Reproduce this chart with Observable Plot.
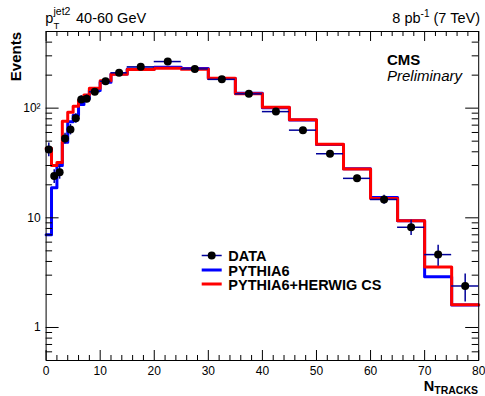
<!DOCTYPE html>
<html><head><meta charset="utf-8">
<script src="https://cdn.jsdelivr.net/npm/d3@7"></script>
<script src="https://cdn.jsdelivr.net/npm/@observablehq/plot@0.6"></script>
<style>body{margin:0;background:#fff} svg{display:block}</style>
</head><body><div id="chart"></div>
<script>
// ---- data ----
const binEdges = [0,1,2,3,4,5,6,7,8,10,12,15,20,25,30,35,40,45,50,55,60,65,70,75,80];
const dataValues = [42,24,26,53,64,81,120,122,141,176,210,238,266,228,183,135,93,63,38.4,22.9,14.7,8.2,4.62,2.39];
const dataErrors = [6,3.4,3.5,6,7,8,10,10,6,5,5,4,5,4,4,3,2.5,2,2,1.5,1.4,1.3,1.0,0.68];
const pythia6 = [7,18.8,30,49,75,86,108,122,145,172,205,228,236,230,186,137,101,78,46.5,28,15.3,9.4,2.9,1.6];
const pythiaHerwig = [43,30,32,76,92,104,118,132,152,178,204,225,231,226,187,135,102,78.5,46.8,27.8,15.0,9.4,3.56,1.61];
const xMajorTicks = [0,10,20,30,40,50,60,70,80];
const xMinorTicks = [2,4,6,8,12,14,16,18,22,24,26,28,32,34,36,38,42,44,46,48,52,54,56,58,62,64,66,68,72,74,76,78];
const yMajorTicks = [1,10,100];
const yTickLabels = ["1","10","10\u00B2"];
const yMinorTicks = [0.6,0.7,0.8,0.9,2,3,4,5,6,7,8,9,20,30,40,50,60,70,80,90,200,300,400];
const seriesNames = ["DATA","PYTHIA6","PYTHIA6+HERWIG CS"];

// ---- layout ----
const FONT = "'Liberation Sans', Arial, Helvetica, sans-serif";
const NAVY = "#000099", BLUE = "#0000ff", RED = "#ff0000";
const W = 485, H = 396, mL = 45.6, mR = 6.8, mT = 31, mB = 36;
const iw = W - mL - mR, ih = H - mT - mB;

const bins = binEdges.slice(0, -1).map((lo, i) => ({
  lo, hi: binEdges[i + 1], mid: (lo + binEdges[i + 1]) / 2, v: dataValues[i], e: dataErrors[i]
}));
const step = vals => [
  ...binEdges.slice(0, -1).map((x, i) => ({x, y: vals[i]})),
  {x: binEdges[binEdges.length - 1], y: vals[vals.length - 1]}
];
const yLabel = new Map(yMajorTicks.map((t, i) => [t, yTickLabels[i]]));

const svgNode = Plot.plot({
  width: W, height: H,
  marginLeft: mL, marginRight: mR, marginTop: mT, marginBottom: mB,
  style: {fontFamily: FONT, fontSize: "12px", background: "white", color: "black"},
  x: {domain: [0, 80]},
  y: {type: "log", domain: [0.5, 500]},
  marks: [
    Plot.line(step(pythia6), {x: "x", y: "y", curve: "step-after", stroke: BLUE, strokeWidth: 3}),
    Plot.line(step(pythiaHerwig), {x: "x", y: "y", curve: "step-after", stroke: RED, strokeWidth: 3}),
    Plot.ruleY(bins, {y: "v", x1: "lo", x2: "hi", stroke: NAVY, strokeWidth: 1.5}),
    Plot.ruleX(bins, {x: "mid", y1: d => d.v - d.e, y2: d => d.v + d.e, stroke: NAVY, strokeWidth: 1.5}),
    Plot.dot(bins, {x: "mid", y: "v", r: 4, fill: "black", stroke: null}),
    // inward ROOT-style ticks on all four sides
    Plot.ruleX(xMajorTicks, {x: d => d, insetTop: ih - 10}),
    Plot.ruleX(xMajorTicks, {x: d => d, insetBottom: ih - 10}),
    Plot.ruleX(xMinorTicks, {x: d => d, insetTop: ih - 5}),
    Plot.ruleX(xMinorTicks, {x: d => d, insetBottom: ih - 5}),
    Plot.ruleY(yMajorTicks, {y: d => d, insetRight: iw - 13}),
    Plot.ruleY(yMajorTicks, {y: d => d, insetLeft: iw - 13}),
    Plot.ruleY(yMinorTicks, {y: d => d, insetRight: iw - 6.5}),
    Plot.ruleY(yMinorTicks, {y: d => d, insetLeft: iw - 6.5}),
    Plot.frame({stroke: "black"}),
    Plot.axisX({ticks: xMajorTicks, tickSize: 0, tickPadding: 5.5, label: null, fontSize: 12}),
    Plot.axisY({ticks: yMajorTicks, tickSize: 0, tickPadding: 5.5, label: null, fontSize: 12, tickFormat: d => yLabel.get(d)})
  ]
});
document.getElementById("chart").appendChild(svgNode);

// ---- annotations ----
const svg = d3.select(svgNode);
const g = svg.append("g").attr("font-family", FONT).attr("fill", "black").attr("text-anchor", "start");
const txt = (x, y, s, size, opts = {}) => {
  const t = g.append("text").attr("x", x).attr("y", y).attr("font-size", size).text(s);
  if (opts.bold) t.attr("font-weight", "bold");
  if (opts.italic) t.attr("font-style", "italic");
  if (opts.anchor) t.attr("text-anchor", opts.anchor);
  return t;
};
// top-left: p_T^jet2 40-60 GeV
txt(45.3, 22.5, "p", 14.5);
txt(53.5, 14.5, "jet2", 10.5);
txt(53.5, 29, "T", 9.5);
txt(76, 22.5, "40-60 GeV", 14.5);
// top-right: 8 pb^-1 (7 TeV)
{
  const t = g.append("text").attr("x", 480).attr("y", 22.5).attr("font-size", 14.5).attr("text-anchor", "end");
  t.append("tspan").text("8 pb");
  t.append("tspan").attr("font-size", 10).attr("dy", -6).text("-1");
  t.append("tspan").attr("dy", 6).text(" (7 TeV)");
}
// CMS Preliminary
txt(387, 65, "CMS", 15, {bold: true});
txt(387, 80.5, "Preliminary", 15, {italic: true});
// y-axis title
g.append("text").attr("transform", "translate(20.5,32) rotate(-90)")
  .attr("text-anchor", "end").attr("font-size", 15).attr("font-weight", "bold").text("Events");
// x-axis title
{
  const t = g.append("text").attr("x", 478).attr("y", 390.5).attr("font-size", 14.5)
    .attr("font-weight", "bold").attr("text-anchor", "end");
  t.append("tspan").text("N");
  t.append("tspan").attr("font-size", 10.5).attr("dy", 3.5).text("TRACKS");
}
// legend
const lg = g.append("g");
const rows = [
  {y: 255.5, base: 261},
  {y: 270, base: 275.5},
  {y: 284, base: 290}
];
lg.append("line").attr("x1", 201.7).attr("x2", 221.7).attr("y1", rows[0].y).attr("y2", rows[0].y)
  .attr("stroke", NAVY).attr("stroke-width", 1.5);
lg.append("circle").attr("cx", 211.7).attr("cy", rows[0].y).attr("r", 4).attr("fill", "black");
lg.append("line").attr("x1", 201.7).attr("x2", 221.7).attr("y1", rows[1].y).attr("y2", rows[1].y)
  .attr("stroke", BLUE).attr("stroke-width", 3);
lg.append("line").attr("x1", 201.7).attr("x2", 221.7).attr("y1", rows[2].y).attr("y2", rows[2].y)
  .attr("stroke", RED).attr("stroke-width", 3);
seriesNames.forEach((n, i) => {
  lg.append("text").attr("x", 228.3).attr("y", rows[i].base).attr("font-size", 14.5)
    .attr("font-weight", "bold").text(n);
});
</script>
</body></html>
